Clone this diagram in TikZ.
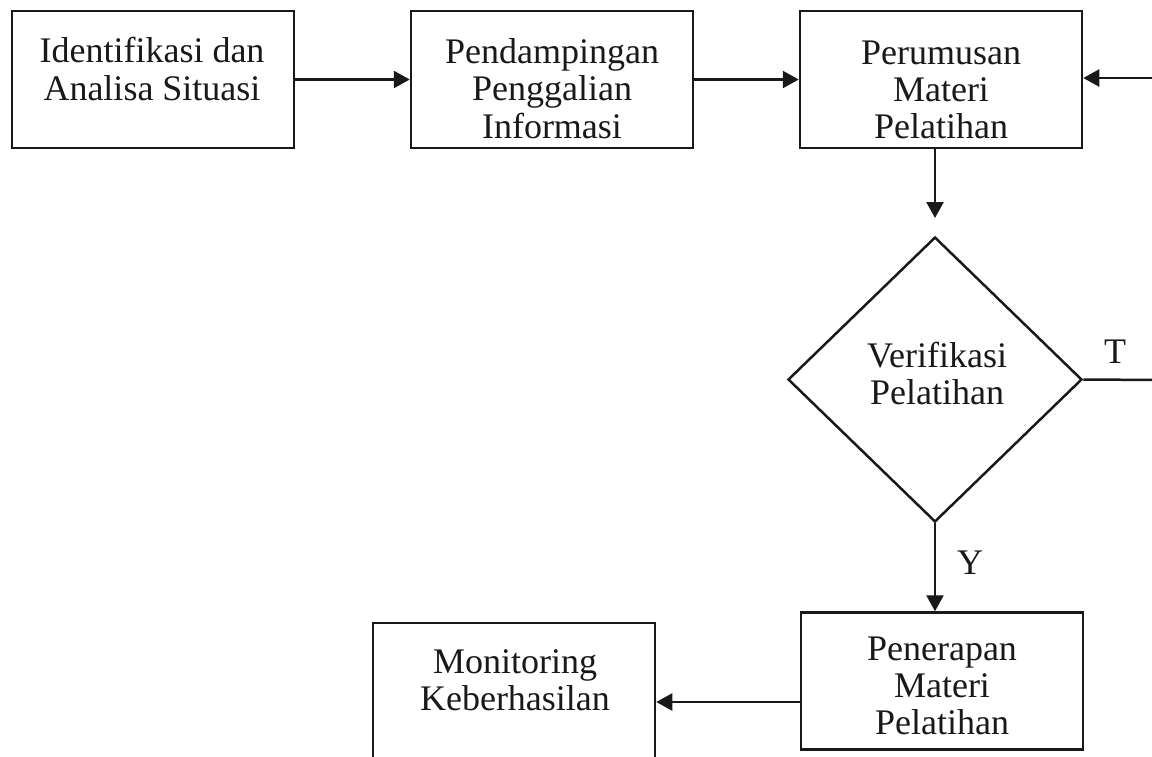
\documentclass[tikz,border=0pt]{standalone}
\usepackage{fontspec}
\setmainfont{Liberation Serif}
\usetikzlibrary{arrows.meta,shapes.geometric}
\begin{document}
\begin{tikzpicture}[x=0.5pt,y=-0.5pt,
  line width=1.25pt,
  box/.style={draw=black!90, line width=1.25pt, minimum width=141pt, minimum height=68.5pt, inner sep=0pt},
  txt/.style={align=center, inner sep=0pt, font=\fontsize{18}{18.6}\selectfont, text=black!90},
  arr/.style={-{Triangle[length=8pt,width=8.5pt]}, draw=black!90, line width=1.25pt},
  conn/.style={draw=black!90, line width=1.25pt}]
\useasboundingbox (0,0) rectangle (1152,756);
\clip (0,0) rectangle (1152,756);
% boxes
\node[box] (b1) at (153,79.5) {};
\node[box] (b2) at (552,79.5) {};
\node[box] (b3) at (941,79.5) {};
\node[draw=black!90, line width=1.25pt, shape=diamond, minimum width=147pt, minimum height=142.5pt, inner sep=0pt] (dia) at (935,379.5) {};
\node[box] (b5) at (942,681) {};
\node[box] (b4) at (514,691.5) {};
% texts
\node[txt] (t1) at (152,69) {Identifikasi dan\\Analisa Situasi};
\node[txt] (t2) at (552,88.5) {Pendampingan\\Penggalian\\Informasi};
\node[txt] (t3) at (941,90) {Perumusan\\Materi\\Pelatihan};
\node[txt] (td) at (937,373.5) {Verifikasi\\Pelatihan};
\node[txt] (t5) at (942,686) {Penerapan\\Materi\\Pelatihan};
\node[txt] (t4) at (515,680) {Monitoring\\Keberhasilan};
\node[txt] (lT) at (1115,352) {T};
\node[txt] (lY) at (970,563) {Y};
% free ends
\coordinate (rin) at (1160,78);
\coordinate (rout) at (1160,380);
\coordinate (dstop) at (935,218);
% connectors
\draw[arr] (b1.east) -- (b2.west);
\draw[arr] (b2.east) -- (b3.west);
\draw[arr] (rin) -- (rin -| b3.east);
\draw[arr] (dia.north |- b3.south) -- (dstop);
\draw[conn] (dia.east) -- (rout);
\draw[arr] (dia.south) -- (dia.south |- b5.north);
\draw[arr] ([yshift=-10.5pt]b5.west) -- ([yshift=-10.5pt]b5.west -| b4.east);
\end{tikzpicture}
\end{document}
